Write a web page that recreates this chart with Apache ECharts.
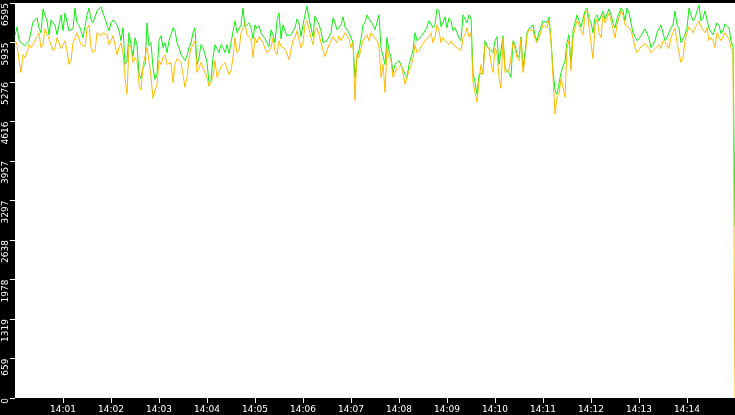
<html>
<head>
    <meta charset="utf-8" />
    <script src="https://cdn.jsdelivr.net/npm/echarts@6/dist/echarts.min.js"></script>
    <style>
        html, body { margin: 0; padding: 0; background: #000; }
        #chart { width: 735px; height: 415px; }
    </style>
</head>
<body>
    <div id="chart"></div>
    <script>
        // one sample every 2.5 s, starting at 14:00:00
        var stepSeconds = 2.5
        var greenValues = [
            // 14:00:00 - 14:02:30
            6048,6197,5982,5932,5899,5882,5899,5965,5932,6280,6264,6346,6181,6098,6496,6512,6297,6065,6313,6264,
            6230,6065,6098,6396,6131,6429,6429,6131,6131,6164,6512,6264,6230,6131,6015,5998,6396,6512,6313,6264,
            6297,6462,6429,6529,6496,6330,6363,6131,6264,6313,6346,6230,6131,5965,6181,5568,5634,6098,6098,5700,
            // 14:02:30 - 14:05:00
            6015,5899,5402,5336,5518,5568,6264,5882,5932,5518,5319,5402,5965,6048,5849,5932,5766,5965,6065,6181,
            6131,5932,5849,5733,5684,5634,5717,5849,5932,6098,6181,5568,5684,5899,5849,5733,5601,5269,5303,5684,
            5899,5866,5766,5899,5849,5766,5899,5750,5932,5965,6297,6098,6131,6230,6512,6197,6164,6264,6181,5998,
            // 14:05:00 - 14:07:30
            6230,6164,6214,6098,6098,5998,5932,5866,6148,6065,5932,6297,6429,5998,6230,6131,6048,6081,6065,6098,
            6181,6330,6264,6032,6230,6396,6545,6330,6313,6032,6380,6396,6230,6131,5932,5899,5965,5998,6098,6346,
            6264,6148,6181,6230,6363,6197,6230,6098,6015,5932,5352,5684,5800,5998,6230,6264,6396,6330,6297,6230,
            // 14:07:30 - 14:10:00
            6148,6131,6396,5849,5849,5568,6015,5800,5684,5435,5568,5601,5634,5667,5485,5402,5352,5568,5601,5800,
            6098,5965,5965,6032,6048,6131,6197,6297,6313,6181,6230,6496,6462,6197,6264,6363,6181,6346,6297,6131,
            6181,6098,6015,5965,6396,6429,6264,6396,6346,5435,5269,5071,5402,5369,5435,5965,5882,5833,5800,5766,
            // 14:10:00 - 14:12:30
            5965,6032,5568,5535,6048,5501,5468,5435,5352,5965,5899,5733,5684,6032,5518,5766,6098,6164,6181,6230,
            6048,5965,6098,6131,6297,6330,6264,6363,5965,5468,5137,5071,5104,5435,5435,5634,5932,6065,5568,6131,
            6264,6396,6297,6197,6181,6462,6512,6330,6264,6098,6346,6396,6297,6264,6462,6330,6297,6496,6396,6264,
            // 14:12:30 - 14:15:00
            6181,6330,6313,6512,6462,6297,6512,6429,6264,6098,6065,5965,5932,6048,6015,6164,6131,5998,5849,5833,
            5965,6098,6131,6230,6230,5965,6015,6032,6181,6230,6462,6230,6181,5932,5965,6065,6181,6512,6396,6297,
            6346,6462,6562,6297,6346,6462,6429,6164,6131,6065,6065,6264,6230,6081,6131,6247,6230,6181,5965,5866,
            2870
        ]
        var orangeValues = [
            // 14:00:00 - 14:02:30
            5965,5899,5634,5435,5733,5684,5766,5899,5849,5833,5965,5932,6098,5849,5899,6164,6197,5998,6015,5800,
            5849,6015,5932,5833,5899,5965,5800,5568,5634,5932,6015,6098,6131,5899,5932,5866,6164,6230,5849,5766,
            5800,6098,6065,6048,6098,6081,6065,5899,5965,6048,5899,5733,5849,5932,5766,5352,5071,5899,5849,5601,
            // 14:02:30 - 14:05:00
            5684,5634,5236,5137,5551,5551,5849,5634,5352,5004,5137,5236,5634,5568,5684,5733,5568,5551,5601,5269,
            5568,5667,5634,5601,5568,5187,5352,5684,5849,5899,5965,5435,5435,5601,5568,5435,5352,5203,5269,5369,
            5634,5352,5435,5535,5518,5601,5601,5402,5468,5684,6015,5766,5800,6098,6181,6264,6065,6032,5998,5684,
            // 14:05:00 - 14:07:30
            6015,5932,6032,6065,5932,5833,5766,5733,5849,6015,5800,5733,5965,5866,5899,5833,5816,5651,5684,5965,
            6015,6131,6098,5849,5932,6230,6297,6264,6015,5899,6131,6181,6065,5932,5816,5700,5800,5899,5965,6032,
            6015,5932,6048,5965,5982,6098,6065,5998,5849,5932,4971,5766,5684,5833,5965,5998,6065,5965,6098,6048,
            // 14:07:30 - 14:10:00
            6015,5965,5882,5352,5568,5104,5849,5684,5634,5352,5435,5501,5518,5568,5435,5236,5269,5468,5551,5667,
            5899,5766,5800,5866,5899,5965,5965,6032,6098,5932,6015,6230,6131,5932,6015,5965,5932,5899,5965,5899,
            5932,5849,5849,5800,6015,6065,6181,6032,6098,5269,5104,4938,5303,5568,5402,5899,5866,5833,5601,5435,
            // 14:10:00 - 14:12:30
            5849,5766,5352,5170,6015,5435,5402,5468,5435,5932,5849,5684,5634,5998,5435,5667,6065,6148,6164,6131,
            5998,5932,6015,6032,6230,6197,6181,6297,5932,5369,4739,5021,5071,5336,5187,5021,5849,5965,5468,6015,
            6181,6297,6230,6131,6065,6396,6462,6197,6230,5667,6230,6330,6098,6015,6396,6264,6264,6429,6297,6164,
            // 14:12:30 - 14:15:00
            6015,6230,6230,6462,6396,6230,6230,6181,6131,6015,5849,5766,5816,5866,5899,5916,5899,5833,5766,5733,
            5833,5800,5899,5833,5965,5932,5899,5833,6015,6048,6181,5932,5965,5601,5684,5965,6098,6197,6181,6098,
            6181,6230,6297,6197,6230,6098,6181,5965,6015,5965,5849,6098,6065,5965,5998,6098,6065,5998,5849,5800,
            0
        ]
        // minute ticks (seconds after 14:00:00)
        var minuteTicks = [60, 120, 180, 240, 300, 360, 420, 480, 540, 600, 660, 720, 780, 840]

        function toPoints(values) {
            var pts = []
            for (var i = 0; i < values.length; i++) {
                pts.push([i * stepSeconds, values[i]])
            }
            return pts
        }

        function pad(n) {
            return n < 10 ? '0' + n : '' + n
        }

        var option = {
            animation: false,
            backgroundColor: '#000',
            textStyle: { fontFamily: 'DejaVu Sans' },
            grid: {
                left: 15,
                right: 0,
                top: 0,
                bottom: 17,
                show: true,
                backgroundColor: '#fff',
                borderWidth: 0
            },
            xAxis: {
                type: 'value',
                min: 0,
                max: 900,
                interval: 60,
                axisLine: { show: false },
                splitLine: { show: false },
                axisTick: {
                    customValues: minuteTicks,
                    length: 5,
                    lineStyle: { color: '#fff', width: 1 }
                },
                axisLabel: {
                    customValues: minuteTicks,
                    color: '#fff',
                    fontSize: 9,
                    margin: 7,
                    formatter: function (v) {
                        return '14:' + pad(Math.round(v / 60))
                    }
                }
            },
            yAxis: {
                type: 'value',
                min: 0,
                max: 6595,
                interval: 659.5,
                axisLine: { show: false },
                splitLine: { show: false },
                axisTick: {
                    show: true,
                    length: 5,
                    lineStyle: { color: '#fff', width: 1 }
                },
                axisLabel: {
                    color: '#fff',
                    fontSize: 9,
                    rotate: 90,
                    align: 'right',
                    verticalAlign: 'bottom',
                    margin: 5,
                    formatter: function (v) {
                        return '' + Math.floor(v)
                    }
                }
            },
            series: [
                {
                    name: 'green',
                    type: 'line',
                    showSymbol: false,
                    lineStyle: { color: '#11ee11', width: 1 },
                    data: toPoints(greenValues)
                },
                {
                    name: 'orange',
                    type: 'line',
                    showSymbol: false,
                    lineStyle: { color: '#ffbb00', width: 1 },
                    data: toPoints(orangeValues)
                }
            ]
        };

        var chart = echarts.init(document.getElementById('chart'))
        chart.setOption(option)
    </script>
</body>
</html>
